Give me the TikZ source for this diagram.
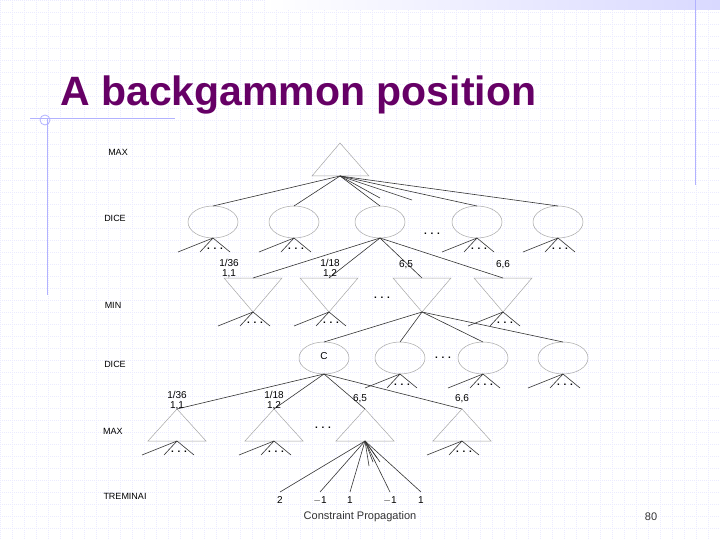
\documentclass[tikz,border=0pt]{standalone}
\usepackage{fontspec}
\setmainfont{Liberation Sans}
\definecolor{ttl}{HTML}{660066}
\begin{document}
\begin{tikzpicture}[x=1pt,y=-1pt,
  tri/.style={draw=gray!70,line width=0.5pt},
  ell/.style={draw=gray!70,line width=0.5pt},
  edge/.style={draw=black!80,line width=0.6pt},
  lvl/.style={font=\fontsize{9}{10}\selectfont},
  lab/.style={font=\fontsize{10}{10}\selectfont,align=center,inner sep=0pt},
  dots/.style={font=\bfseries\fontsize{10}{10}\selectfont,inner sep=0pt}]
\useasboundingbox (0,0) rectangle (720,540);
\fill[white] (0,0) rectangle (720,540);
\foreach \i in {0,12,...,720}{\draw[blue!8,line width=0.4pt,dash pattern=on 1pt off 1pt] (\i,0) -- (\i,540);}
\foreach \j in {0,12,...,540}{\draw[blue!8,line width=0.4pt,dash pattern=on 1pt off 1pt] (0,\j) -- (720,\j);}
\shade[left color=white,right color=blue!15] (265,0) rectangle (720,10);
\draw[blue!30,line width=0.8pt] (695,0) -- (695,185);
\draw[blue!30,line width=0.8pt] (47,118) -- (47,295);
\draw[blue!30,line width=0.8pt] (30,118) -- (175,118);
\draw[blue!30,line width=0.8pt] (45,120) circle (5);
\node[anchor=west,text=ttl,font=\bfseries\fontsize{41}{44}\selectfont,inner sep=0pt] (title) at (60,95) {A backgammon position};

% level labels
\node[lvl] (l1) at (118,152) {MAX};
\node[lvl] (l2) at (115,218) {DICE};
\node[lvl] (l3) at (113,305) {MIN};
\node[lvl] (l4) at (115,364) {DICE};
\node[lvl] (l5) at (113,431) {MAX};
\node[lvl] (l6) at (125,496) {TREMINAI};

% fan macro
\newcommand{\myfan}[2]{%
  \draw[edge] (#1,#2) -- (#1-35,#2+14);
  \draw[edge] (#1,#2) -- (#1-13,#2+14);
  \draw[edge] (#1,#2) -- (#1+17,#2+14);
  \node[dots] at (#1+2,#2+11) {. . .};}

% top MAX
\draw[tri] (340,143) -- (312,176) -- (369,176) -- cycle;
\coordinate (r) at (340,176);
\foreach \x/\n in {213/a,294/b,380/c,477/d,558/e}{
  \draw[ell] (\x,222) ellipse (25 and 16);
  \coordinate (d\n) at (\x,206);
  \draw[edge] (r) -- (d\n);
}
\coordinate (s1) at (380,198); \coordinate (s2) at (412,200);
\draw[edge] (r) -- (s1); \draw[edge] (r) -- (s2);
\node[dots] (dd1) at (432,234) {. . .};
\foreach \x in {213,294,477,558}{\myfan{\x}{238}}

% MIN level
\coordinate (c) at (380,238);
\foreach \x/\n in {253/a,329/b,422/c,503/d}{
  \draw[tri] (\x-29,278) -- (\x+29,278) -- (\x,312) -- cycle;
  \coordinate (m\n) at (\x,278);
  \draw[edge] (c) -- (m\n);
}
\node[lab] (p1) at (229,269) {1/36\\1,1};
\node[lab] (p2) at (330,269) {1/18\\1,2};
\node[lab] (p3) at (406,265) {6,5};
\node[lab] (p4) at (503,265) {6,6};
\node[dots] (dd2) at (382,298) {. . .};
\foreach \x in {253,329,503}{\myfan{\x}{312}}

% DICE 2
\coordinate (mm) at (422,312);
\foreach \x/\n in {324/a,400/b,483/c,563/d}{
  \draw[ell] (\x,358) ellipse (25 and 16);
  \coordinate (e\n) at (\x,342);
  \draw[edge] (mm) -- (e\n);
}
\node[font=\fontsize{10}{10}\selectfont] (C) at (324,356) {C};
\node[dots] (dd3) at (443,358) {. . .};
\foreach \x in {400,483,563}{\myfan{\x}{374}}

% MAX 2
\coordinate (cc) at (324,374);
\foreach \x/\n in {177/a,274/b,365/c,462/d}{
  \draw[tri] (\x,409) -- (\x-29,441) -- (\x+29,441) -- cycle;
  \coordinate (t\n) at (\x,409);
  \draw[edge] (cc) -- (t\n);
}
\node[lab] (q1) at (177,401) {1/36\\1,1};
\node[lab] (q2) at (274,401) {1/18\\1,2};
\node[lab] (q3) at (360,399) {6,5};
\node[lab] (q4) at (462,399) {6,6};
\node[dots] (dd4) at (323,428) {. . .};
\foreach \x in {177,274,462}{\myfan{\x}{441}}

% terminals
\coordinate (tt) at (365,441);
\foreach \x/\v/\n in {280/2/a,320/{$-$1}/b,350/1/c,390/{$-$1}/d,421/1/e}{
  \node[lab] (z\n) at (\x,500) {\v};
  \coordinate (y\n) at (\x,492);
  \draw[edge] (tt) -- (y\n);
}
\foreach \x/\y in {369/466,373/462,377/458,380/462}{\draw[edge] (tt) -- (\x,\y);}

\node[font=\fontsize{11}{12}\selectfont,text=black!80] (foot) at (360,517) {Constraint Propagation};
\node[font=\fontsize{11}{12}\selectfont,text=black!80] (pg) at (651,517) {80};
\end{tikzpicture}
\end{document}
